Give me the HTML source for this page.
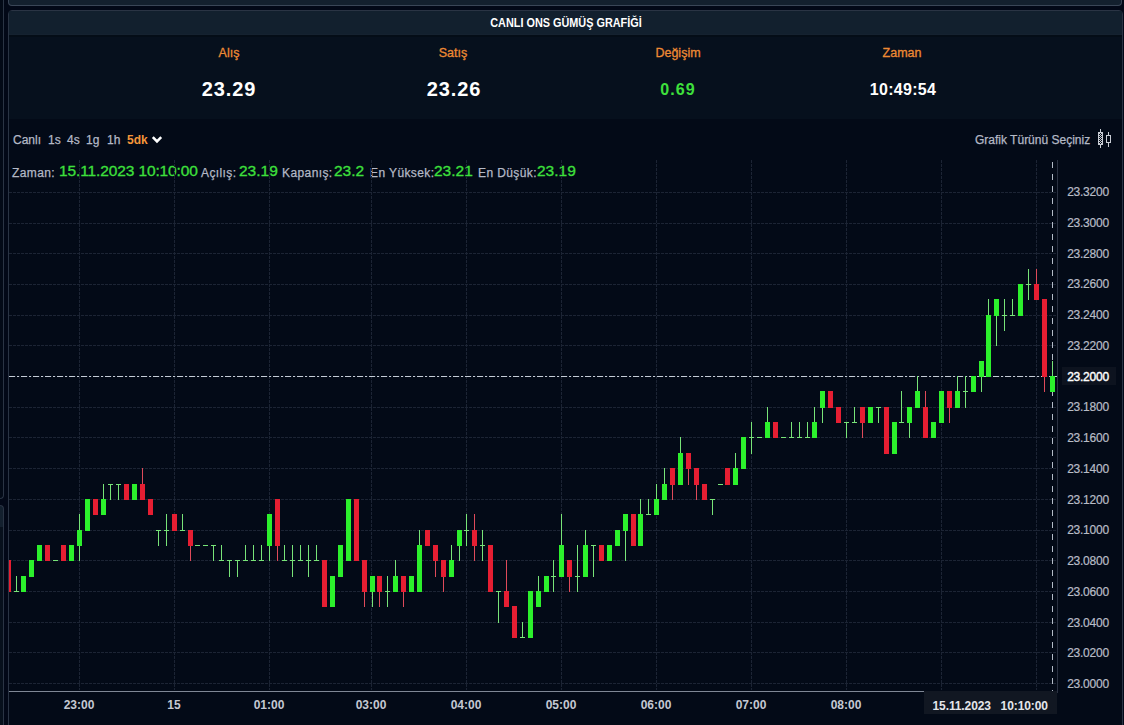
<!DOCTYPE html>
<html><head><meta charset="utf-8">
<style>
html,body{margin:0;padding:0;}
body{width:1124px;height:725px;overflow:hidden;background:#020817;position:relative;font-family:"Liberation Sans",sans-serif;}
.abs{position:absolute;}
#outer{left:3px;top:-10px;width:1200px;height:800px;border-left:1px solid #2a3444;}
#topbox{left:8px;top:-10px;width:1112px;height:15px;background:#13202e;border:1px solid #3a4657;border-top:none;border-radius:0 0 4px 4px;}
#panel{left:8px;top:10px;width:1113px;height:730px;background:#030a17;border:1px solid #2a3444;border-radius:4px 4px 0 0;}
#hdr{left:9px;top:11px;width:1113px;height:23px;background:#12202e;}
#hdrline{left:9px;top:34px;width:1113px;height:1px;background:#152230;}
#stats{left:9px;top:35px;width:1113px;height:84px;background:#06101d;border-top:2px solid #040d17;box-sizing:border-box;}
#title{left:10px;top:12px;width:1112px;height:23px;line-height:23px;text-align:center;color:#fff;font-weight:bold;font-size:12px;transform:scaleX(0.905);}
.lbl{color:#ee8a34;font-size:12.5px;-webkit-text-stroke:0.3px #ee8a34;text-align:center;width:200px;}
.val{color:#fff;font-weight:bold;text-align:center;width:200px;}
.gray{color:#b4b9c6;}
.grn{color:#3ee03c;}
.ig{top:166px;font-size:12px;letter-spacing:0.4px;color:#b4b9c6;-webkit-text-stroke:0.25px #b4b9c6;white-space:nowrap;line-height:14px;}
.ic{top:162px;font-size:15.5px;color:#3ee03c;-webkit-text-stroke:0.3px #3ee03c;white-space:nowrap;line-height:18px;}
.tb{font-size:12px;color:#b4b9c6;-webkit-text-stroke:0.25px #b4b9c6;}
.plbl{left:1059.5px;width:57px;text-align:center;font-size:12px;letter-spacing:-0.25px;color:#b8bcc6;line-height:14px;margin-top:1px;-webkit-text-stroke:0.2px #b8bcc6;}
.tlbl{top:698px;width:60px;text-align:center;font-size:12px;font-weight:bold;color:#c4c8d2;line-height:14px;}
</style></head>
<body>
<div class="abs" style="left:-100px;top:-10px;width:103px;height:508px;background:#030a17;border-right:1px solid #2a3444;border-bottom:1px solid #2a3444;border-radius:0 0 4px 0;"></div>
<div class="abs" style="left:-100px;top:505px;width:103px;height:300px;background:linear-gradient(#13202e 0,#13202e 21px,#07101c 21px);border-right:1px solid #2a3444;border-top:1px solid #2a3444;border-radius:0 4px 0 0;"></div>
<div class="abs" id="topbox"></div>
<div class="abs" id="panel"></div>
<div class="abs" id="hdr"></div>
<div class="abs" id="hdrline"></div>
<div class="abs" id="stats"></div>
<div class="abs" id="title">CANLI ONS GÜMÜŞ GRAFİĞİ</div>

<div class="abs lbl" style="left:129px;top:46px;">Alış</div>
<div class="abs lbl" style="left:353px;top:46px;">Satış</div>
<div class="abs lbl" style="left:578px;top:46px;">Değişim</div>
<div class="abs lbl" style="left:802px;top:46px;">Zaman</div>
<div class="abs val" style="left:129px;top:78px;font-size:20px;letter-spacing:0.9px;">23.29</div>
<div class="abs val" style="left:354px;top:78px;font-size:20px;letter-spacing:0.9px;">23.26</div>
<div class="abs val grn" style="left:578px;top:80.5px;font-size:16px;letter-spacing:1.1px;">0.69</div>
<div class="abs val" style="left:803px;top:80.5px;font-size:16px;letter-spacing:0.3px;">10:49:54</div>

<div class="abs tb" style="left:13px;top:133px;">Canlı</div>
<div class="abs tb" style="left:48px;top:133px;">1s</div>
<div class="abs tb" style="left:67px;top:133px;">4s</div>
<div class="abs tb" style="left:86px;top:133px;">1g</div>
<div class="abs tb" style="left:107px;top:133px;">1h</div>
<div class="abs tb" style="left:127px;top:133px;color:#f4963a;font-weight:bold;-webkit-text-stroke:0;">5dk</div>
<svg class="abs" style="left:151px;top:135px" width="12" height="9" viewBox="0 0 12 9"><path d="M1.8 2.2 L6 6.4 L10.2 2.2" fill="none" stroke="#fff" stroke-width="2.6"/></svg>

<div class="abs tb" style="left:975px;top:133px;">Grafik Türünü Seçiniz</div>

<div class="abs ig" style="left:12px;">Zaman:</div>
<div class="abs ic" style="left:59px;letter-spacing:-0.12px;">15.11.2023 10:10:00</div>
<div class="abs ig" style="left:201px;">Açılış:</div>
<div class="abs ic" style="left:239px;">23.19</div>
<div class="abs ig" style="left:282px;">Kapanış:</div>
<div class="abs ic" style="left:334px;">23.2</div>
<div class="abs ig" style="left:370px;">En Yüksek:</div>
<div class="abs ic" style="left:434px;">23.21</div>
<div class="abs ig" style="left:478px;">En Düşük:</div>
<div class="abs ic" style="left:537px;">23.19</div>

<svg class="abs" style="left:0;top:0" width="1124" height="160" shape-rendering="crispEdges" fill="#c8ccd4">
<rect x="1100" y="129" width="1" height="19"/>
<rect x="1098" y="132" width="5" height="13" fill="#050b17"/>
<rect x="1098" y="132" width="5" height="1"/><rect x="1098" y="144" width="5" height="1"/>
<rect x="1098" y="132" width="1" height="13"/><rect x="1102" y="132" width="1" height="13"/>
<rect x="1099" y="133" width="1" height="1"/><rect x="1101" y="133" width="1" height="1"/><rect x="1100" y="134" width="1" height="1"/><rect x="1099" y="135" width="1" height="1"/><rect x="1101" y="135" width="1" height="1"/><rect x="1100" y="136" width="1" height="1"/><rect x="1099" y="137" width="1" height="1"/><rect x="1101" y="137" width="1" height="1"/><rect x="1100" y="138" width="1" height="1"/><rect x="1099" y="139" width="1" height="1"/><rect x="1101" y="139" width="1" height="1"/><rect x="1100" y="140" width="1" height="1"/><rect x="1099" y="141" width="1" height="1"/><rect x="1101" y="141" width="1" height="1"/><rect x="1100" y="142" width="1" height="1"/><rect x="1099" y="143" width="1" height="1"/><rect x="1101" y="143" width="1" height="1"/>
<rect x="1108" y="132" width="1" height="15"/>
<rect x="1106" y="135" width="5" height="8" fill="#050b17"/>
<rect x="1106" y="135" width="5" height="1"/><rect x="1106" y="142" width="5" height="1"/>
<rect x="1106" y="135" width="1" height="8"/><rect x="1110" y="135" width="1" height="8"/>
</svg>
<svg class="abs" style="left:0;top:0" width="1124" height="725" viewBox="0 0 1124 725" shape-rendering="crispEdges">
<defs><clipPath id="plot"><rect x="9" y="160" width="1048" height="531"/></clipPath></defs>
<g clip-path="url(#plot)">
<line x1="9" y1="683.5" x2="1057" y2="683.5" stroke="#1c2434" stroke-dasharray="3 1"/>
<line x1="9" y1="652.5" x2="1057" y2="652.5" stroke="#1c2434" stroke-dasharray="3 1"/>
<line x1="9" y1="622.5" x2="1057" y2="622.5" stroke="#1c2434" stroke-dasharray="3 1"/>
<line x1="9" y1="591.5" x2="1057" y2="591.5" stroke="#1c2434" stroke-dasharray="3 1"/>
<line x1="9" y1="560.5" x2="1057" y2="560.5" stroke="#1c2434" stroke-dasharray="3 1"/>
<line x1="9" y1="530.5" x2="1057" y2="530.5" stroke="#1c2434" stroke-dasharray="3 1"/>
<line x1="9" y1="499.5" x2="1057" y2="499.5" stroke="#1c2434" stroke-dasharray="3 1"/>
<line x1="9" y1="468.5" x2="1057" y2="468.5" stroke="#1c2434" stroke-dasharray="3 1"/>
<line x1="9" y1="437.5" x2="1057" y2="437.5" stroke="#1c2434" stroke-dasharray="3 1"/>
<line x1="9" y1="407.5" x2="1057" y2="407.5" stroke="#1c2434" stroke-dasharray="3 1"/>
<line x1="9" y1="376.5" x2="1057" y2="376.5" stroke="#1c2434" stroke-dasharray="3 1"/>
<line x1="9" y1="345.5" x2="1057" y2="345.5" stroke="#1c2434" stroke-dasharray="3 1"/>
<line x1="9" y1="315.5" x2="1057" y2="315.5" stroke="#1c2434" stroke-dasharray="3 1"/>
<line x1="9" y1="284.5" x2="1057" y2="284.5" stroke="#1c2434" stroke-dasharray="3 1"/>
<line x1="9" y1="253.5" x2="1057" y2="253.5" stroke="#1c2434" stroke-dasharray="3 1"/>
<line x1="9" y1="223.5" x2="1057" y2="223.5" stroke="#1c2434" stroke-dasharray="3 1"/>
<line x1="9" y1="192.5" x2="1057" y2="192.5" stroke="#1c2434" stroke-dasharray="3 1"/>
<line x1="79.5" y1="160" x2="79.5" y2="690" stroke="#1c2434" stroke-dasharray="3 1"/>
<line x1="174.5" y1="160" x2="174.5" y2="690" stroke="#1c2434" stroke-dasharray="3 1"/>
<line x1="269.5" y1="160" x2="269.5" y2="690" stroke="#1c2434" stroke-dasharray="3 1"/>
<line x1="371.5" y1="160" x2="371.5" y2="690" stroke="#1c2434" stroke-dasharray="3 1"/>
<line x1="466.5" y1="160" x2="466.5" y2="690" stroke="#1c2434" stroke-dasharray="3 1"/>
<line x1="561.5" y1="160" x2="561.5" y2="690" stroke="#1c2434" stroke-dasharray="3 1"/>
<line x1="656.5" y1="160" x2="656.5" y2="690" stroke="#1c2434" stroke-dasharray="3 1"/>
<line x1="751.5" y1="160" x2="751.5" y2="690" stroke="#1c2434" stroke-dasharray="3 1"/>
<line x1="846.5" y1="160" x2="846.5" y2="690" stroke="#1c2434" stroke-dasharray="3 1"/>
<line x1="941.5" y1="160" x2="941.5" y2="690" stroke="#1c2434" stroke-dasharray="3 1"/>
<line x1="1036.5" y1="160" x2="1036.5" y2="690" stroke="#1c2434" stroke-dasharray="3 1"/>
<line x1="9" y1="376.5" x2="1057" y2="376.5" stroke="#c4ccd6" stroke-dasharray="6 2 2 2"/>
<line x1="1052.5" y1="162" x2="1052.5" y2="691" stroke="#b4bcc8" stroke-dasharray="6 6"/>
<rect x="6" y="560" width="5" height="32" fill="#e61e32"/>
<rect x="16" y="576" width="1" height="16" fill="#78e478"/>
<rect x="14" y="591" width="5" height="1" fill="#78e478"/>
<rect x="21" y="576" width="5" height="16" fill="#2cf02c"/>
<rect x="29" y="560" width="5" height="17" fill="#2cf02c"/>
<rect x="37" y="545" width="5" height="16" fill="#2cf02c"/>
<rect x="45" y="545" width="5" height="16" fill="#e61e32"/>
<rect x="53" y="560" width="5" height="1" fill="#78e478"/>
<rect x="61" y="545" width="5" height="16" fill="#e61e32"/>
<rect x="69" y="545" width="5" height="16" fill="#2cf02c"/>
<rect x="79" y="514" width="1" height="47" fill="#78e478"/>
<rect x="77" y="530" width="5" height="16" fill="#2cf02c"/>
<rect x="85" y="499" width="5" height="32" fill="#2cf02c"/>
<rect x="93" y="499" width="5" height="16" fill="#e61e32"/>
<rect x="103" y="484" width="1" height="31" fill="#78e478"/>
<rect x="101" y="499" width="5" height="16" fill="#2cf02c"/>
<rect x="110" y="484" width="1" height="16" fill="#78e478"/>
<rect x="108" y="484" width="5" height="1" fill="#78e478"/>
<rect x="118" y="484" width="1" height="16" fill="#78e478"/>
<rect x="116" y="484" width="5" height="1" fill="#78e478"/>
<rect x="124" y="484" width="5" height="16" fill="#e61e32"/>
<rect x="132" y="484" width="5" height="16" fill="#2cf02c"/>
<rect x="142" y="468" width="1" height="32" fill="#de4a5a"/>
<rect x="140" y="484" width="5" height="16" fill="#e61e32"/>
<rect x="148" y="499" width="5" height="16" fill="#e61e32"/>
<rect x="158" y="530" width="1" height="16" fill="#78e478"/>
<rect x="156" y="530" width="5" height="1" fill="#78e478"/>
<rect x="166" y="514" width="1" height="32" fill="#78e478"/>
<rect x="164" y="530" width="5" height="1" fill="#78e478"/>
<rect x="172" y="514" width="5" height="17" fill="#e61e32"/>
<rect x="182" y="514" width="1" height="17" fill="#78e478"/>
<rect x="180" y="530" width="5" height="1" fill="#78e478"/>
<rect x="190" y="530" width="1" height="31" fill="#de4a5a"/>
<rect x="188" y="530" width="5" height="16" fill="#e61e32"/>
<rect x="195" y="545" width="5" height="1" fill="#78e478"/>
<rect x="203" y="545" width="5" height="1" fill="#78e478"/>
<rect x="213" y="545" width="1" height="16" fill="#78e478"/>
<rect x="211" y="545" width="5" height="1" fill="#78e478"/>
<rect x="221" y="545" width="1" height="16" fill="#78e478"/>
<rect x="219" y="560" width="5" height="1" fill="#78e478"/>
<rect x="229" y="560" width="1" height="17" fill="#78e478"/>
<rect x="227" y="560" width="5" height="1" fill="#78e478"/>
<rect x="237" y="560" width="1" height="17" fill="#78e478"/>
<rect x="235" y="560" width="5" height="1" fill="#78e478"/>
<rect x="245" y="545" width="1" height="16" fill="#78e478"/>
<rect x="243" y="560" width="5" height="1" fill="#78e478"/>
<rect x="253" y="545" width="1" height="16" fill="#78e478"/>
<rect x="251" y="560" width="5" height="1" fill="#78e478"/>
<rect x="261" y="545" width="1" height="16" fill="#78e478"/>
<rect x="259" y="560" width="5" height="1" fill="#78e478"/>
<rect x="269" y="514" width="1" height="47" fill="#78e478"/>
<rect x="267" y="514" width="5" height="32" fill="#2cf02c"/>
<rect x="277" y="499" width="1" height="62" fill="#de4a5a"/>
<rect x="275" y="499" width="5" height="47" fill="#e61e32"/>
<rect x="284" y="545" width="1" height="16" fill="#78e478"/>
<rect x="282" y="560" width="5" height="1" fill="#78e478"/>
<rect x="292" y="545" width="1" height="32" fill="#78e478"/>
<rect x="290" y="560" width="5" height="1" fill="#78e478"/>
<rect x="300" y="545" width="1" height="16" fill="#78e478"/>
<rect x="298" y="560" width="5" height="1" fill="#78e478"/>
<rect x="308" y="545" width="1" height="32" fill="#78e478"/>
<rect x="306" y="560" width="5" height="1" fill="#78e478"/>
<rect x="316" y="545" width="1" height="16" fill="#78e478"/>
<rect x="314" y="560" width="5" height="1" fill="#78e478"/>
<rect x="322" y="560" width="5" height="47" fill="#e61e32"/>
<rect x="330" y="576" width="5" height="31" fill="#2cf02c"/>
<rect x="338" y="545" width="5" height="32" fill="#2cf02c"/>
<rect x="346" y="499" width="5" height="62" fill="#2cf02c"/>
<rect x="354" y="499" width="5" height="62" fill="#e61e32"/>
<rect x="364" y="560" width="1" height="47" fill="#de4a5a"/>
<rect x="362" y="560" width="5" height="32" fill="#e61e32"/>
<rect x="372" y="576" width="1" height="31" fill="#78e478"/>
<rect x="370" y="576" width="5" height="16" fill="#2cf02c"/>
<rect x="379" y="576" width="1" height="31" fill="#de4a5a"/>
<rect x="377" y="576" width="5" height="16" fill="#e61e32"/>
<rect x="387" y="576" width="1" height="31" fill="#78e478"/>
<rect x="385" y="591" width="5" height="1" fill="#78e478"/>
<rect x="395" y="560" width="1" height="32" fill="#78e478"/>
<rect x="393" y="576" width="5" height="16" fill="#2cf02c"/>
<rect x="403" y="576" width="1" height="31" fill="#de4a5a"/>
<rect x="401" y="576" width="5" height="16" fill="#e61e32"/>
<rect x="409" y="576" width="5" height="16" fill="#2cf02c"/>
<rect x="419" y="530" width="1" height="62" fill="#78e478"/>
<rect x="417" y="545" width="5" height="47" fill="#2cf02c"/>
<rect x="425" y="530" width="5" height="16" fill="#e61e32"/>
<rect x="435" y="545" width="1" height="32" fill="#de4a5a"/>
<rect x="433" y="545" width="5" height="16" fill="#e61e32"/>
<rect x="443" y="560" width="1" height="32" fill="#de4a5a"/>
<rect x="441" y="560" width="5" height="17" fill="#e61e32"/>
<rect x="451" y="545" width="1" height="32" fill="#78e478"/>
<rect x="449" y="560" width="5" height="17" fill="#2cf02c"/>
<rect x="459" y="530" width="1" height="31" fill="#78e478"/>
<rect x="457" y="530" width="5" height="16" fill="#2cf02c"/>
<rect x="466" y="514" width="1" height="32" fill="#78e478"/>
<rect x="464" y="530" width="5" height="1" fill="#78e478"/>
<rect x="474" y="514" width="1" height="47" fill="#de4a5a"/>
<rect x="472" y="530" width="5" height="16" fill="#e61e32"/>
<rect x="482" y="530" width="1" height="31" fill="#78e478"/>
<rect x="480" y="545" width="5" height="1" fill="#78e478"/>
<rect x="488" y="545" width="5" height="47" fill="#e61e32"/>
<rect x="498" y="591" width="1" height="32" fill="#78e478"/>
<rect x="496" y="591" width="5" height="1" fill="#78e478"/>
<rect x="506" y="560" width="1" height="47" fill="#de4a5a"/>
<rect x="504" y="591" width="5" height="16" fill="#e61e32"/>
<rect x="512" y="606" width="5" height="32" fill="#e61e32"/>
<rect x="522" y="622" width="1" height="16" fill="#78e478"/>
<rect x="520" y="637" width="5" height="1" fill="#78e478"/>
<rect x="528" y="591" width="5" height="47" fill="#2cf02c"/>
<rect x="538" y="576" width="1" height="31" fill="#78e478"/>
<rect x="536" y="591" width="5" height="16" fill="#2cf02c"/>
<rect x="544" y="576" width="5" height="16" fill="#2cf02c"/>
<rect x="553" y="560" width="1" height="32" fill="#78e478"/>
<rect x="551" y="576" width="5" height="1" fill="#78e478"/>
<rect x="561" y="514" width="1" height="63" fill="#78e478"/>
<rect x="559" y="545" width="5" height="32" fill="#2cf02c"/>
<rect x="569" y="560" width="1" height="32" fill="#de4a5a"/>
<rect x="567" y="560" width="5" height="17" fill="#e61e32"/>
<rect x="577" y="545" width="1" height="47" fill="#78e478"/>
<rect x="575" y="576" width="5" height="1" fill="#78e478"/>
<rect x="585" y="530" width="1" height="47" fill="#78e478"/>
<rect x="583" y="545" width="5" height="32" fill="#2cf02c"/>
<rect x="593" y="545" width="1" height="32" fill="#78e478"/>
<rect x="591" y="545" width="5" height="1" fill="#78e478"/>
<rect x="599" y="545" width="5" height="16" fill="#e61e32"/>
<rect x="607" y="545" width="5" height="16" fill="#2cf02c"/>
<rect x="615" y="530" width="5" height="16" fill="#2cf02c"/>
<rect x="625" y="514" width="1" height="47" fill="#78e478"/>
<rect x="623" y="514" width="5" height="17" fill="#2cf02c"/>
<rect x="631" y="514" width="5" height="32" fill="#e61e32"/>
<rect x="640" y="499" width="1" height="47" fill="#78e478"/>
<rect x="638" y="514" width="5" height="32" fill="#2cf02c"/>
<rect x="648" y="499" width="1" height="16" fill="#78e478"/>
<rect x="646" y="514" width="5" height="1" fill="#78e478"/>
<rect x="656" y="484" width="1" height="31" fill="#78e478"/>
<rect x="654" y="499" width="5" height="16" fill="#2cf02c"/>
<rect x="664" y="468" width="1" height="32" fill="#78e478"/>
<rect x="662" y="484" width="5" height="16" fill="#2cf02c"/>
<rect x="672" y="468" width="1" height="32" fill="#de4a5a"/>
<rect x="670" y="468" width="5" height="17" fill="#e61e32"/>
<rect x="680" y="437" width="1" height="48" fill="#78e478"/>
<rect x="678" y="453" width="5" height="32" fill="#2cf02c"/>
<rect x="688" y="453" width="1" height="32" fill="#de4a5a"/>
<rect x="686" y="453" width="5" height="16" fill="#e61e32"/>
<rect x="696" y="468" width="1" height="32" fill="#de4a5a"/>
<rect x="694" y="468" width="5" height="17" fill="#e61e32"/>
<rect x="702" y="484" width="5" height="16" fill="#e61e32"/>
<rect x="712" y="499" width="1" height="16" fill="#78e478"/>
<rect x="710" y="499" width="5" height="1" fill="#78e478"/>
<rect x="718" y="484" width="5" height="1" fill="#78e478"/>
<rect x="725" y="468" width="5" height="17" fill="#e61e32"/>
<rect x="735" y="453" width="1" height="32" fill="#78e478"/>
<rect x="733" y="468" width="5" height="17" fill="#2cf02c"/>
<rect x="741" y="437" width="5" height="32" fill="#2cf02c"/>
<rect x="751" y="422" width="1" height="32" fill="#78e478"/>
<rect x="749" y="437" width="5" height="1" fill="#78e478"/>
<rect x="757" y="437" width="5" height="1" fill="#78e478"/>
<rect x="767" y="407" width="1" height="31" fill="#78e478"/>
<rect x="765" y="422" width="5" height="16" fill="#2cf02c"/>
<rect x="773" y="422" width="5" height="16" fill="#e61e32"/>
<rect x="781" y="437" width="5" height="1" fill="#78e478"/>
<rect x="791" y="422" width="1" height="16" fill="#78e478"/>
<rect x="789" y="437" width="5" height="1" fill="#78e478"/>
<rect x="799" y="422" width="1" height="16" fill="#78e478"/>
<rect x="797" y="437" width="5" height="1" fill="#78e478"/>
<rect x="807" y="422" width="1" height="16" fill="#78e478"/>
<rect x="805" y="437" width="5" height="1" fill="#78e478"/>
<rect x="814" y="407" width="1" height="31" fill="#78e478"/>
<rect x="812" y="422" width="5" height="16" fill="#2cf02c"/>
<rect x="822" y="391" width="1" height="32" fill="#78e478"/>
<rect x="820" y="391" width="5" height="17" fill="#2cf02c"/>
<rect x="828" y="391" width="5" height="17" fill="#e61e32"/>
<rect x="836" y="407" width="5" height="16" fill="#e61e32"/>
<rect x="846" y="422" width="1" height="16" fill="#78e478"/>
<rect x="844" y="422" width="5" height="1" fill="#78e478"/>
<rect x="854" y="407" width="1" height="16" fill="#78e478"/>
<rect x="852" y="422" width="5" height="1" fill="#78e478"/>
<rect x="862" y="407" width="1" height="31" fill="#de4a5a"/>
<rect x="860" y="407" width="5" height="16" fill="#e61e32"/>
<rect x="868" y="407" width="5" height="16" fill="#2cf02c"/>
<rect x="878" y="407" width="1" height="16" fill="#78e478"/>
<rect x="876" y="407" width="5" height="1" fill="#78e478"/>
<rect x="884" y="407" width="5" height="47" fill="#e61e32"/>
<rect x="892" y="422" width="5" height="32" fill="#2cf02c"/>
<rect x="901" y="391" width="1" height="32" fill="#78e478"/>
<rect x="899" y="422" width="5" height="1" fill="#78e478"/>
<rect x="909" y="407" width="1" height="31" fill="#78e478"/>
<rect x="907" y="407" width="5" height="16" fill="#2cf02c"/>
<rect x="917" y="376" width="1" height="32" fill="#78e478"/>
<rect x="915" y="391" width="5" height="17" fill="#2cf02c"/>
<rect x="925" y="391" width="1" height="47" fill="#de4a5a"/>
<rect x="923" y="407" width="5" height="31" fill="#e61e32"/>
<rect x="931" y="422" width="5" height="16" fill="#2cf02c"/>
<rect x="939" y="391" width="5" height="32" fill="#2cf02c"/>
<rect x="949" y="391" width="1" height="32" fill="#de4a5a"/>
<rect x="947" y="391" width="5" height="17" fill="#e61e32"/>
<rect x="957" y="376" width="1" height="32" fill="#78e478"/>
<rect x="955" y="391" width="5" height="17" fill="#2cf02c"/>
<rect x="965" y="376" width="1" height="32" fill="#78e478"/>
<rect x="963" y="391" width="5" height="1" fill="#78e478"/>
<rect x="971" y="376" width="5" height="16" fill="#2cf02c"/>
<rect x="981" y="361" width="1" height="31" fill="#78e478"/>
<rect x="979" y="361" width="5" height="16" fill="#2cf02c"/>
<rect x="988" y="299" width="1" height="78" fill="#78e478"/>
<rect x="986" y="315" width="5" height="62" fill="#2cf02c"/>
<rect x="996" y="299" width="1" height="47" fill="#78e478"/>
<rect x="994" y="299" width="5" height="17" fill="#2cf02c"/>
<rect x="1004" y="299" width="1" height="32" fill="#78e478"/>
<rect x="1002" y="315" width="5" height="1" fill="#78e478"/>
<rect x="1012" y="299" width="1" height="17" fill="#78e478"/>
<rect x="1010" y="315" width="5" height="1" fill="#78e478"/>
<rect x="1018" y="284" width="5" height="32" fill="#2cf02c"/>
<rect x="1028" y="269" width="1" height="31" fill="#78e478"/>
<rect x="1026" y="284" width="5" height="1" fill="#78e478"/>
<rect x="1036" y="269" width="1" height="31" fill="#de4a5a"/>
<rect x="1034" y="284" width="5" height="16" fill="#e61e32"/>
<rect x="1044" y="299" width="1" height="93" fill="#de4a5a"/>
<rect x="1042" y="299" width="5" height="78" fill="#e61e32"/>
<rect x="1052" y="361" width="1" height="31" fill="#78e478"/>
<rect x="1050" y="376" width="5" height="16" fill="#2cf02c"/>
</g>
<rect x="1057" y="160" width="1" height="533" fill="#2b3242"/>
<rect x="9" y="691" width="1048" height="1" fill="#7f8795"/>
</svg>
<div class="abs plbl" style="top:676.0px">23.0000</div>
<div class="abs plbl" style="top:645.2px">23.0200</div>
<div class="abs plbl" style="top:614.5px">23.0400</div>
<div class="abs plbl" style="top:583.8px">23.0600</div>
<div class="abs plbl" style="top:553.0px">23.0800</div>
<div class="abs plbl" style="top:522.2px">23.1000</div>
<div class="abs plbl" style="top:491.5px">23.1200</div>
<div class="abs plbl" style="top:460.8px">23.1400</div>
<div class="abs plbl" style="top:430.0px">23.1600</div>
<div class="abs plbl" style="top:399.2px">23.1800</div>
<div class="abs plbl" style="top:337.8px">23.2200</div>
<div class="abs plbl" style="top:307.0px">23.2400</div>
<div class="abs plbl" style="top:276.2px">23.2600</div>
<div class="abs plbl" style="top:245.5px">23.2800</div>
<div class="abs plbl" style="top:214.8px">23.3000</div>
<div class="abs plbl" style="top:184.0px">23.3200</div>
<div class="abs" style="left:1062px;top:367px;width:54px;height:18px;background:#0d131f;"></div>
<div class="abs plbl" style="top:368.5px;color:#fff;-webkit-text-stroke:0.4px #fff;">23.2000</div>
<div class="abs tlbl" style="left:49px">23:00</div>
<div class="abs tlbl" style="left:144px">15</div>
<div class="abs tlbl" style="left:239px">01:00</div>
<div class="abs tlbl" style="left:341px">03:00</div>
<div class="abs tlbl" style="left:436px">04:00</div>
<div class="abs tlbl" style="left:531px">05:00</div>
<div class="abs tlbl" style="left:626px">06:00</div>
<div class="abs tlbl" style="left:721px">07:00</div>
<div class="abs tlbl" style="left:816px">08:00</div>
<div class="abs" style="left:924px;top:691px;width:133px;height:23px;background:#111722;"></div>
<div class="abs" style="left:932.5px;top:699px;font-size:12px;font-weight:bold;letter-spacing:-0.1px;color:#e4e6ea;white-space:nowrap;line-height:14px;">15.11.2023 &nbsp; 10:10:00</div>
</body></html>
